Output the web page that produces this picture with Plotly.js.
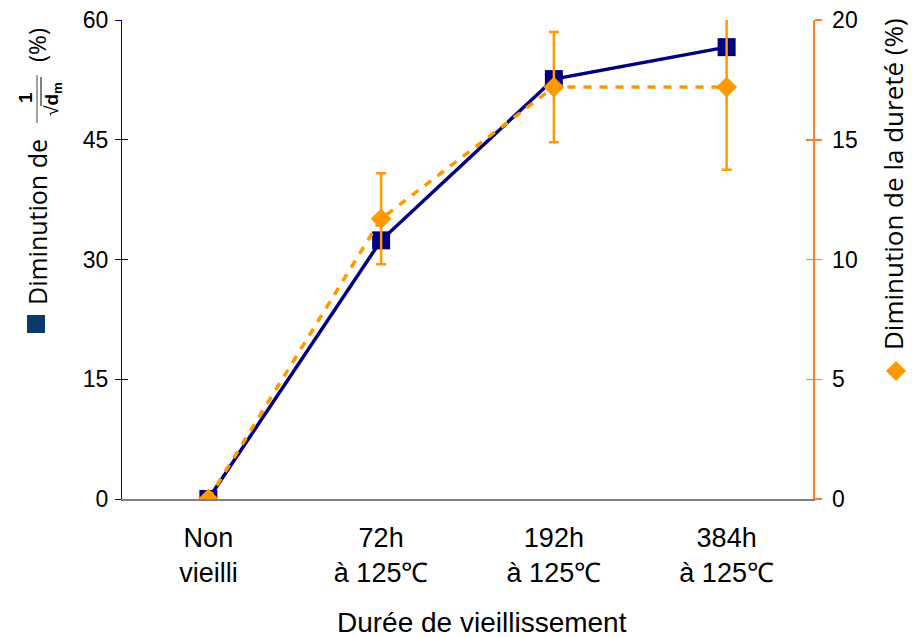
<!DOCTYPE html>
<html><head><meta charset="utf-8">
<script src="https://cdn.plot.ly/plotly-3.0.1.min.js"></script>
<style>html,body{margin:0;padding:0;background:#fff}</style>
</head><body><div id="chart" style="width:912px;height:637px"></div>
<script>
const categories = ["Non<br>vieilli", "72h<br>à 125℃", "192h<br>à 125℃", "384h<br>à 125℃"];
const invSqrtDm = [0, 32.4, 52.6, 56.6];
const hardness = [0, 11.7, 17.2, 17.2];
const hardnessErr = [0, 1.9, 2.3, 3.45];
const leftTicks = [0, 15, 30, 45, 60];
const rightTicks = [0, 5, 10, 15, 20];

const NAVY = '#000080', ORANGE = '#FF9900', RAXIS = '#FF7F2A';
const L = 122, R = 813, T = 20, B = 499;
const px = v => (v - L) / (R - L);
const py = v => (B - v) / (B - T);

const traces = [
  {x: categories, y: invSqrtDm, yaxis: 'y', mode: 'lines+markers', type: 'scatter',
   line: {color: NAVY, width: 3.5}, marker: {symbol: 'square', size: 18, color: NAVY},
   hoverinfo: 'skip'},
  {x: categories, y: hardness, yaxis: 'y2', mode: 'lines+markers', type: 'scatter',
   line: {color: ORANGE, width: 3.5, dash: '8px,8px'}, marker: {symbol: 'diamond', size: 16, color: ORANGE},
   error_y: {type: 'data', array: hardnessErr, visible: true, color: ORANGE, thickness: 2.5, width: 5},
   hoverinfo: 'skip'},
  {x: categories, y: invSqrtDm, yaxis: 'y3', mode: 'lines', line: {color: 'rgba(0,0,0,0)'}, hoverinfo: 'skip'},
  {x: categories, y: hardness, yaxis: 'y4', mode: 'lines', line: {color: 'rgba(0,0,0,0)'}, hoverinfo: 'skip'}
];

const tickFont = {family: 'Arial, Liberation Sans, sans-serif', size: 23, color: '#000'};
const titleFont = {family: 'Open Sans, sans-serif', size: 24, color: '#000'};

const layout = {
  width: 912, height: 637,
  margin: {l: L, r: 912 - R, t: T, b: 637 - B},
  paper_bgcolor: '#fff', plot_bgcolor: '#fff',
  showlegend: false,
  xaxis: {type: 'category', range: [-0.5, 3.5], showline: true, linecolor: '#808080', linewidth: 1.5,
          ticks: '', showgrid: false, zeroline: false, ticklabelstandoff: 14,
          tickfont: {family: 'Arial, Liberation Sans, sans-serif', size: 27, color: '#000'}},
  yaxis: {range: [0, 60], tickvals: leftTicks, ticks: 'outside', ticklen: 6, tickcolor: NAVY, tickwidth: 1,
          showline: true, linecolor: NAVY, linewidth: 1, showgrid: false, zeroline: false, tickfont: tickFont,
          ticklabelstandoff: 2},
  yaxis2: {overlaying: 'y', side: 'right', range: [0, 20], tickvals: rightTicks, ticks: 'outside', ticklen: 7,
           tickcolor: RAXIS, tickwidth: 1.5, showline: true, linecolor: RAXIS, linewidth: 1.5,
           showgrid: false, zeroline: false, tickfont: tickFont, ticklabelstandoff: 6},
  yaxis3: {overlaying: 'y', side: 'left', range: [0, 60], tickvals: leftTicks, ticks: 'inside', ticklen: 6,
           tickcolor: NAVY, showticklabels: false, showline: false, showgrid: false, zeroline: false},
  yaxis4: {overlaying: 'y', side: 'right', range: [0, 20], tickvals: rightTicks, ticks: 'inside', ticklen: 7,
           tickcolor: RAXIS, tickwidth: 1.5, showticklabels: false, showline: false, showgrid: false, zeroline: false},
  annotations: [
    {text: 'Durée de vieillissement', xref: 'paper', yref: 'paper', x: px(482), y: py(622),
     showarrow: false, xanchor: 'center', yanchor: 'middle', font: {family: 'Arial, Liberation Sans, sans-serif', size: 28, color: '#000'}},
    {text: 'Diminution de la dureté (%)', xref: 'paper', yref: 'paper', x: px(893), y: py(184), textangle: -90,
     showarrow: false, xanchor: 'center', yanchor: 'middle', font: {family: 'Open Sans, sans-serif', size: 26, color: '#000'}},
    {text: 'Diminution de', xref: 'paper', yref: 'paper', x: px(37), y: py(222), textangle: -90,
     showarrow: false, xanchor: 'center', yanchor: 'middle', font: {family: 'Open Sans, sans-serif', size: 25, color: '#000'}},
    {text: '<b>1</b>', xref: 'paper', yref: 'paper', x: px(25), y: py(98), textangle: -90,
     showarrow: false, xanchor: 'center', yanchor: 'middle', font: {family: 'Arial, sans-serif', size: 19, color: '#000'}},
    {text: '√<b>d<sub>m</sub></b>', xref: 'paper', yref: 'paper', x: px(53), y: py(99), textangle: -90,
     showarrow: false, xanchor: 'center', yanchor: 'middle', font: {family: 'Arial, sans-serif', size: 19, color: '#000'}},
    {text: '(%)', xref: 'paper', yref: 'paper', x: px(36), y: py(45), textangle: -90,
     showarrow: false, xanchor: 'center', yanchor: 'middle', font: titleFont}
  ],
  shapes: [
    {type: 'rect', xref: 'paper', yref: 'paper', x0: px(27), x1: px(45), y0: py(333), y1: py(315),
     fillcolor: '#0A3A6A', line: {width: 0}},
    {type: 'path', xref: 'paper', yref: 'paper',
     path: 'M ' + px(896) + ' ' + py(361) + ' L ' + (px(896) + 10/691) + ' ' + py(371) + ' L ' + px(896) + ' ' + py(381) + ' L ' + (px(896) - 10/691) + ' ' + py(371) + ' Z',
     fillcolor: ORANGE, line: {width: 0}},
    {type: 'line', xref: 'paper', yref: 'paper', x0: px(37), x1: px(37), y0: py(75), y1: py(123),
     line: {color: '#808080', width: 1.5}},
    {type: 'line', xref: 'paper', yref: 'paper', x0: px(41), x1: px(41), y0: py(77), y1: py(106),
     line: {color: '#000', width: 1}}
  ]
};

Plotly.newPlot('chart', traces, layout, {staticPlot: true, displayModeBar: false});
</script></body></html>
